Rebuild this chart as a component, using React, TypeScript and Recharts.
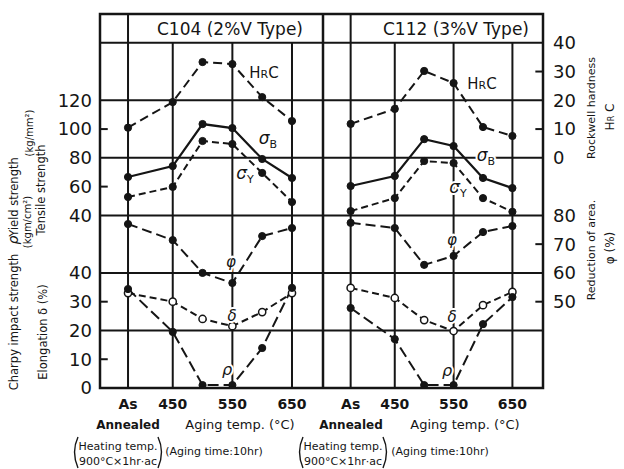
import React from 'react';
import { LineChart, Line, XAxis, YAxis, ReferenceLine } from 'recharts';

// x position of each aging condition (°C); "As annealed" sits 1.5 steps left of 450
const agingX = [375, 450, 500, 550, 600, 650];
const xTickValues = [375, 450, 550, 650];
const xTickLabels = ['As', '450', '550', '650'];

// C104 (2%V Type)
const c104Hrc = [10.5, 19.4, 33.3, 32.6, 21.1, 12.8];
const c104SigmaB = [66.7, 74.3, 103.5, 100.7, 79.2, 66];
const c104SigmaY = [52.8, 59.8, 91.7, 89.6, 69.5, 49.3];
const c104Phi = [77, 71.4, 60, 56.5, 72.8, 75.6];
const c104Delta = [33, 30, 24, 21.5, 26.4, 33];
const c104Rho = [34.4, 19.5, 1, 1, 13.9, 34.8];

// C112 (3%V Type)
const c112Hrc = [11.8, 17, 30.2, 26, 10.7, 7.6];
const c112SigmaB = [60.4, 67.4, 93, 88.2, 66, 59];
const c112SigmaY = [43, 52, 77.8, 76.4, 52, 42.5];
const c112Phi = [77.4, 75.6, 62.8, 65.9, 74.2, 76.3];
const c112Delta = [34.8, 31.3, 23.6, 19.8, 28.8, 33.4];
const c112Rho = [27.8, 17, 1, 1, 22.2, 31.6];

// all axes share one frame 13 grid steps tall.
// left ticks sit on the δ/ρ axis (0..130), right ticks on the φ axis (20..150)
const leftTickValues = [0, 10, 20, 30, 40, 60, 70, 80, 90, 100];
const leftTickLabels = ['0', '10', '20', '30', '40', '40', '60', '80', '100', '120'];
const leftMinor = [10, 30, 70, 90];
const rightTickValues = [50, 60, 70, 80, 100, 110, 120, 130, 140];
const rightTickLabels = ['50', '60', '70', '80', '0', '10', '20', '30', '40'];
const rightMinor = [50, 70, 110, 130];
const gridValues = [20, 40, 60, 80, 100, 120];

const INK = '#151515';
const FONT = '"DejaVu Sans", sans-serif';

type Row = { x: number; hrc: number; sigB: number; sigY: number; phi: number; delta: number; rho: number };

const buildRows = (hrc: number[], sigB: number[], sigY: number[], phi: number[], delta: number[], rho: number[]): Row[] =>
  agingX.map((x, i) => ({ x, hrc: hrc[i], sigB: sigB[i], sigY: sigY[i], phi: phi[i], delta: delta[i], rho: rho[i] }));

const c104Rows = buildRows(c104Hrc, c104SigmaB, c104SigmaY, c104Phi, c104Delta, c104Rho);
const c112Rows = buildRows(c112Hrc, c112SigmaB, c112SigmaY, c112Phi, c112Delta, c112Rho);

const filledDot = { r: 3.6, fill: INK, stroke: INK, strokeWidth: 1, strokeDasharray: 'none' };
const openDot = { r: 3.6, fill: '#fff', stroke: INK, strokeWidth: 1.5, strokeDasharray: 'none' };

const tickFont = { fontSize: 18, fill: INK, fontFamily: FONT };

const XTick = (props: any) => {
  const { x, y, payload } = props;
  const label = xTickLabels[xTickValues.indexOf(payload.value)];
  return (
    <text x={x} y={y + 21} textAnchor="middle" fontSize={14} fontWeight="bold" fontFamily={FONT} fill={INK}>
      {label}
    </text>
  );
};

const X_MIN = 328;
const X_MAX = 702;
const MINOR_LEN = 13; // in °C units, about 8px

function Panel({ rows, side }: { rows: Row[]; side: 'left' | 'right' }) {
  const isLeft = side === 'left';
  // hidden axes go on the side without visible ticks so they don't shift them
  const hiddenSide = isLeft ? 'right' : 'left';
  return (
    <LineChart width={isLeft ? 323 : 301} height={469} data={rows} margin={{ top: 14, right: 0, bottom: 0, left: 0 }}>
      <XAxis
        type="number"
        dataKey="x"
        domain={[X_MIN, X_MAX]}
        ticks={xTickValues}
        interval={0}
        tick={(p: any) => <XTick {...p} />}
        tickLine={false}
        axisLine={false}
        tickSize={0}
        tickMargin={0}
        height={81}
        allowDataOverflow
      />
      <YAxis
        yAxisId="low"
        type="number"
        orientation={isLeft ? 'left' : hiddenSide}
        domain={[0, 130]}
        allowDataOverflow
        hide={!isLeft}
        width={100}
        ticks={leftTickValues}
        interval={0}
        tick={tickFont}
        tickFormatter={(v: number) => leftTickLabels[leftTickValues.indexOf(v)]}
        tickLine={false}
        axisLine={false}
        tickSize={0}
        tickMargin={8}
      />
      <YAxis
        yAxisId="phi"
        type="number"
        orientation={isLeft ? hiddenSide : 'right'}
        domain={[20, 150]}
        allowDataOverflow
        hide={isLeft}
        width={81}
        ticks={rightTickValues}
        interval={0}
        tick={tickFont}
        tickFormatter={(v: number) => rightTickLabels[rightTickValues.indexOf(v)]}
        tickLine={false}
        axisLine={false}
        tickSize={0}
        tickMargin={10}
      />
      <YAxis yAxisId="hrc" hide orientation={hiddenSide} type="number" domain={[-80, 50]} allowDataOverflow />
      <YAxis yAxisId="sigma" hide orientation={hiddenSide} type="number" domain={[-80, 180]} allowDataOverflow />

      {gridValues.map((v) => (
        <ReferenceLine key={`h${v}`} yAxisId="low" y={v} stroke={INK} strokeWidth={2} />
      ))}
      <ReferenceLine yAxisId="low" segment={[{ x: 375, y: 0 }, { x: 375, y: 130 }]} stroke={INK} strokeWidth={2} />
      {[450, 550, 650].map((t) => (
        <ReferenceLine key={`v${t}`} yAxisId="low" segment={[{ x: t, y: 0 }, { x: t, y: 120 }]} stroke={INK} strokeWidth={2} />
      ))}
      {isLeft
        ? leftMinor.map((v) => (
            <ReferenceLine key={`m${v}`} yAxisId="low" segment={[{ x: X_MIN, y: v }, { x: X_MIN + MINOR_LEN, y: v }]} stroke={INK} strokeWidth={2} />
          ))
        : rightMinor.map((v) => (
            <ReferenceLine key={`m${v}`} yAxisId="phi" segment={[{ x: X_MAX - MINOR_LEN, y: v }, { x: X_MAX, y: v }]} stroke={INK} strokeWidth={2} />
          ))}

      <Line yAxisId="hrc" dataKey="hrc" stroke={INK} strokeWidth={2} strokeDasharray="9 5" dot={filledDot} isAnimationActive={false} />
      <Line yAxisId="sigma" dataKey="sigB" stroke={INK} strokeWidth={2.2} dot={filledDot} isAnimationActive={false} />
      <Line yAxisId="sigma" dataKey="sigY" stroke={INK} strokeWidth={2} strokeDasharray="7 4" dot={filledDot} isAnimationActive={false} />
      <Line yAxisId="phi" dataKey="phi" stroke={INK} strokeWidth={2} strokeDasharray="10 5" dot={filledDot} isAnimationActive={false} />
      <Line yAxisId="low" dataKey="delta" stroke={INK} strokeWidth={2} strokeDasharray="7 4" dot={openDot} isAnimationActive={false} />
      <Line yAxisId="low" dataKey="rho" stroke={INK} strokeWidth={2} strokeDasharray="11 5" dot={filledDot} isAnimationActive={false} />
    </LineChart>
  );
}

const knock = { stroke: '#fff', strokeWidth: 4, paintOrder: 'stroke' as const };

function CurveLabels({ hrc, sigB, sigY, phi, delta, rho }: Record<string, [number, number]>) {
  return (
    <g fill={INK} fontFamily={FONT} {...knock}>
      <text x={hrc[0]} y={hrc[1] + 5} textAnchor="middle" fontSize={15}>
        H<tspan fontSize={11}>R</tspan>C
      </text>
      <text x={sigB[0]} y={sigB[1] + 5} textAnchor="middle" fontSize={17} fontStyle="italic">
        σ<tspan fontSize={11} fontStyle="normal" dy={4}>B</tspan>
      </text>
      <text x={sigY[0]} y={sigY[1] + 5} textAnchor="middle" fontSize={17} fontStyle="italic">
        σ<tspan fontSize={11} fontStyle="normal" dy={4}>Y</tspan>
      </text>
      <text x={phi[0]} y={phi[1] + 5} textAnchor="middle" fontSize={15} fontStyle="italic">φ</text>
      <text x={delta[0]} y={delta[1] + 5} textAnchor="middle" fontSize={15} fontStyle="italic">δ</text>
      <text x={rho[0]} y={rho[1] + 5} textAnchor="middle" fontSize={16} fontStyle="italic">ρ</text>
    </g>
  );
}

function Paren({ x, dir }: { x: number; dir: 1 | -1 }) {
  return <path d={`M${x} 437 Q${x - dir * 7} 452 ${x} 468`} fill="none" stroke={INK} strokeWidth={1.4} />;
}

function HeatNote({ cx }: { cx: number }) {
  return (
    <g>
      <Paren x={cx - 40} dir={1} />
      <Paren x={cx + 40} dir={-1} />
      <text x={cx} y={450} textAnchor="middle" fontSize={11}>Heating temp.</text>
      <text x={cx} y={465} textAnchor="middle" fontSize={11}>900°C×1hr·ac</text>
    </g>
  );
}

function Overlay() {
  const rot = (x: number, y: number) => `translate(${x},${y}) rotate(-90)`;
  return (
    <svg width={624} height={469} style={{ position: 'absolute', left: 0, top: 0, pointerEvents: 'none' }}>
      <g fill={INK} fontFamily={FONT}>
        {/* frame */}
        <rect x={100} y={14} width={443} height={374} fill="none" stroke={INK} strokeWidth={2.5} />
        <line x1={323} x2={323} y1={14} y2={388} stroke={INK} strokeWidth={2.5} />

        {/* panel headers */}
        <text x={230} y={35} textAnchor="middle" fontSize={17}>C104  (2%V Type)</text>
        <text x={456} y={35} textAnchor="middle" fontSize={17}>C112  (3%V Type)</text>

        <CurveLabels hrc={[264, 73]} sigB={[268, 139]} sigY={[245, 174]} phi={[231, 262]} delta={[232, 316]} rho={[227, 370]} />
        <CurveLabels hrc={[482, 84]} sigB={[486, 156]} sigY={[458, 188]} phi={[452, 240]} delta={[452, 317]} rho={[447, 371]} />

        {/* left axis titles */}
        <text transform={rot(18, 322)} textAnchor="middle" fontSize={11.5}>Charpy impact strength</text>
        <text transform={rot(18, 240)} textAnchor="middle" fontSize={14} fontStyle="italic">ρ</text>
        <text transform={rot(18, 197)} textAnchor="middle" fontSize={11.5}>Yield strength</text>
        <text transform={rot(31, 222)} textAnchor="middle" fontSize={10}>(kgm/cm²)</text>
        <text transform={rot(33, 133)} textAnchor="middle" fontSize={10}>(kg/mm²)</text>
        <text transform={rot(45, 190)} textAnchor="middle" fontSize={11.5}>Tensile strength</text>
        <text transform={rot(47, 332)} textAnchor="middle" fontSize={11.5}>Elongation  δ  (%)</text>

        {/* right axis titles */}
        <text transform={rot(595, 108)} textAnchor="middle" fontSize={11}>Rockwell hardness</text>
        <text transform={rot(614, 117)} textAnchor="middle" fontSize={12}>
          H<tspan fontSize={8}>R</tspan> C
        </text>
        <text transform={rot(595, 250)} textAnchor="middle" fontSize={11}>Reduction of area.</text>
        <text transform={rot(614, 248)} textAnchor="middle" fontSize={12}>φ  (%)</text>

        {/* x captions */}
        <text x={128} y={429} textAnchor="middle" fontSize={12} fontWeight="bold">Annealed</text>
        <text x={351} y={429} textAnchor="middle" fontSize={12} fontWeight="bold">Annealed</text>
        <text x={240} y={429} textAnchor="middle" fontSize={13}>Aging temp. (°C)</text>
        <text x={465} y={429} textAnchor="middle" fontSize={13}>Aging  temp.  (°C)</text>
        <HeatNote cx={118} />
        <HeatNote cx={343} />
        <text x={214} y={455} textAnchor="middle" fontSize={11}>(Aging time:10hr)</text>
        <text x={440} y={455} textAnchor="middle" fontSize={11}>(Aging time:10hr)</text>
      </g>
    </svg>
  );
}

export default function App() {
  return (
    <div style={{ position: 'absolute', left: 0, top: 0, width: 624, height: 469, background: '#fff', fontFamily: FONT, overflow: 'hidden' }}>
      <div style={{ position: 'absolute', left: 0, top: 0 }}>
        <Panel rows={c104Rows} side="left" />
      </div>
      <div style={{ position: 'absolute', left: 323, top: 0 }}>
        <Panel rows={c112Rows} side="right" />
      </div>
      <Overlay />
    </div>
  );
}
